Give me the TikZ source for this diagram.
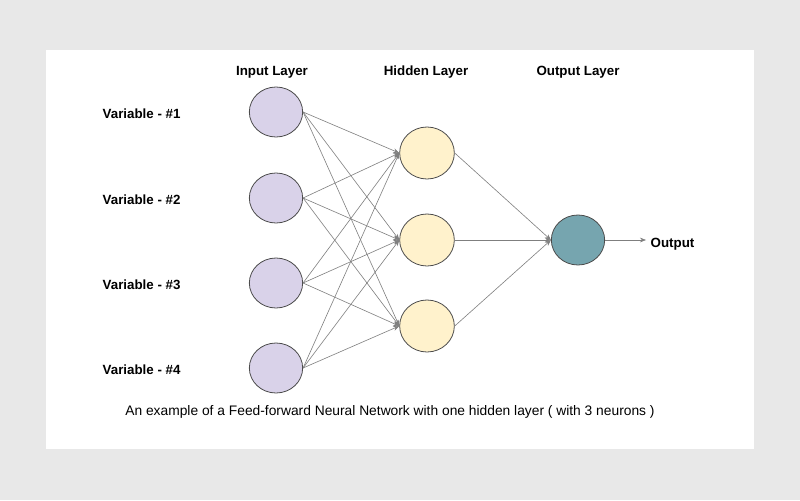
\documentclass[tikz,border=0pt]{standalone}
\usepackage{fontspec}
\setmainfont{Liberation Sans}
\usepackage{xcolor}
\usetikzlibrary{arrows.meta, shapes.geometric}

\definecolor{inputfill}{HTML}{D9D2E9}
\definecolor{hiddenfill}{HTML}{FFF2CC}
\definecolor{outputfill}{HTML}{76A5AF}
\definecolor{edgegray}{HTML}{7F7F7F}

\tikzset{
	neuron/.style = {ellipse, draw = black!70, line width = 0.6pt, minimum width = 40pt, minimum height = 37.5pt, inner sep = 0pt},
	heading/.style = {font = \bfseries\fontsize{10}{12}\selectfont},
	link/.style = {draw = edgegray, line width = 0.45pt, -{Stealth[length = 4.5pt, width = 3.5pt]}}
}

\begin{document}
\begin{tikzpicture}[x = 0.75pt, y = -0.75pt]
		\def\xin{276};
		\def\xhid{427};
		\def\xout{578};
		
		% frame
		\fill [black!9] (0,0) rectangle (800,500);
		\fill [white] (46,50) rectangle (754,449);
		\useasboundingbox (0,0) rectangle (800,500);
		
		% layer titles
		\node [heading] (tin) at (272,72) {Input Layer};
		\node [heading] (thid) at (426,72) {Hidden Layer};
		\node [heading] (tout) at (578,72) {Output Layer};
		
		% input neurons
		\foreach \i/\y in {1/112, 2/198, 3/283, 4/368} {
			\node [neuron, fill = inputfill] (in\i) at (\xin,\y) {};
			\node [heading, anchor = west] (var\i) at (98,\y+2) {Variable - \#\i};
		}
		
		% hidden neurons
		\foreach \j/\y in {1/153, 2/240, 3/326}
			\node [neuron, fill = hiddenfill, minimum width = 41pt, minimum height = 39pt] (hid\j) at (\xhid,\y) {};
		
		% output neuron
		\node [neuron, fill = outputfill] (out) at (\xout,240) {};
		\coordinate (outend) at (646,240);
		\node [heading, anchor = west] (outlabel) at (646,244) {Output};
		
		% connections
		\foreach \i in {1,...,4}
			\foreach \j in {1,2,3}
				\draw [link] (in\i.east) -- (hid\j.west);
		
		\foreach \j in {1,2,3}
			\draw [link] (hid\j.east) -- (out.west);
		
		\draw [link] (out.east) -- (outend);
		
		% caption
		\node [font = \fontsize{10.35}{12}\selectfont] (caption) at (390,412) {An example of a Feed-forward Neural Network with one hidden layer ( with 3 neurons )};
	\end{tikzpicture}
\end{document}
